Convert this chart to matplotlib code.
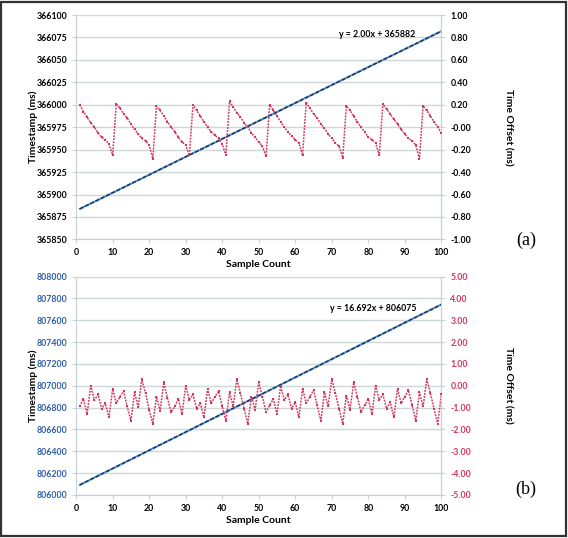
import numpy as np
import matplotlib
matplotlib.use("Agg")
import matplotlib.pyplot as plt
from matplotlib.patches import Rectangle

plt.rcParams['font.family'] = ['Lato', 'DejaVu Sans']

# sample index 1..100
samples = list(range(1, 101))

# (a) trendline of timestamps and sawtooth time offset (ms)
slope_a = 2.00
intercept_a = 365882
offset_a = [0.20, 0.14, 0.09, 0.04, 0.00, -0.05, -0.09, -0.11, -0.15, -0.25,
            0.21, 0.17, 0.12, 0.08, 0.03, -0.02, -0.06, -0.10, -0.12, -0.16, -0.28,
            0.19, 0.15, 0.10, 0.05, 0.00, -0.04, -0.09, -0.13, -0.16, -0.25,
            0.20, 0.15, 0.10, 0.05, 0.00, -0.04, -0.07, -0.10, -0.15, -0.25,
            0.23, 0.18, 0.13, 0.09, 0.04, 0.00, -0.05, -0.09, -0.13, -0.17, -0.26,
            0.20, 0.15, 0.10, 0.05, 0.00, -0.04, -0.08, -0.11, -0.14, -0.25,
            0.22, 0.17, 0.12, 0.08, 0.03, -0.01, -0.06, -0.10, -0.14, -0.17, -0.27,
            0.19, 0.15, 0.10, 0.05, 0.00, -0.04, -0.09, -0.11, -0.14, -0.25,
            0.21, 0.16, 0.12, 0.07, 0.03, -0.02, -0.06, -0.10, -0.12, -0.16, -0.28,
            0.19, 0.15, 0.10, 0.05, 0.00, -0.05]

# (b)
slope_b = 16.692
intercept_b = 806075
offset_b = [-0.95, -0.60, -1.30, 0.00, -0.67, -0.40, -1.06, -0.80, -1.45, -0.15,
            -0.80, -0.50, -0.25, -0.95, -1.60, -0.30, -0.97, 0.30, -0.35, -1.10,
            -1.75, -0.50, -1.15, 0.15, -0.55, -1.20, -0.95, -0.60, -1.30, 0.00,
            -0.65, -0.40, -1.05, -0.80, -1.45, -0.15, -0.80, -0.50, -0.25, -0.95,
            -1.60, -0.30, -0.95, 0.30, -0.35, -1.05, -1.75, -0.50, -1.10, 0.15,
            -0.50, -1.20, -0.90, -0.60, -1.30, 0.00, -0.65, -0.40, -1.05, -0.75,
            -1.45, -0.15, -0.80, -0.50, -0.20, -0.90, -1.60, -0.30, -0.95, 0.30,
            -0.35, -1.05, -1.75, -0.45, -1.10, 0.15, -0.50, -1.20, -0.90, -0.60,
            -1.30, 0.00, -0.65, -0.40, -1.05, -0.75, -1.45, -0.15, -0.80, -0.50,
            -0.20, -0.90, -1.60, -0.30, -0.95, 0.30, -0.35, -1.05, -1.75, -0.40]

red = "#d4365f"
navy = "#1d3d6b"
lightblue = "#5b9bd5"
grid_c = "#cfd8d8"
spine_c = "#c5d3d3"

fig = plt.figure(figsize=(5.68, 5.38), dpi=100)
fig.patches.append(Rectangle((0.002, 0.003), 0.994, 0.994, transform=fig.transFigure,
                             fill=False, edgecolor="#333333", linewidth=1.6))


def make_panel(rect, slope, intercept, offset, lticks, rticks, eq, eqpos, tag, tagy,
               lcolor, rcolor):
    ax = fig.add_axes(rect)
    x = np.array(samples)
    trend = slope * x + intercept
    ax.plot(x, trend, color=lightblue, linewidth=1.4, zorder=3)
    ax.plot(x, trend, color=navy, linewidth=1.2, linestyle=(0, (2.5, 1)), zorder=4)
    ax.set_xlim(0, 100)
    ax.set_ylim(lticks[0], lticks[-1])
    ax.set_xticks(range(0, 101, 10))
    ax.set_yticks(lticks)
    ax.yaxis.grid(True, color=grid_c, linewidth=1.0)
    ax.set_axisbelow(True)
    ax.tick_params(labelsize=6.3, length=3, width=0.8, color=spine_c)
    ax.tick_params(axis='y', labelcolor=lcolor)
    for lab in ax.get_xticklabels() + ax.get_yticklabels():
        lab.set_fontweight('bold')
    ax.spines['top'].set_visible(False)
    for s in ['left', 'right', 'bottom']:
        ax.spines[s].set_color(spine_c)
    ax.set_xlabel("Sample Count", fontsize=7.5, fontweight='bold', labelpad=2)
    ax.set_ylabel("Timestamp (ms)", fontsize=7.5, fontweight='bold', labelpad=-1)
    ax.text(eqpos[0], eqpos[1], eq, fontsize=6.3, fontweight='bold',
            transform=ax.transData, zorder=6)

    ax2 = ax.twinx()
    ax2.plot(x, offset, color=red, linewidth=1.1, linestyle=(0, (1.2, 0.8)),
             marker='s', markersize=2.1, markeredgewidth=0, zorder=5)
    ax2.set_ylim(rticks[0], rticks[-1])
    ax2.set_yticks(rticks)
    ax2.set_yticklabels(["%.2f" % v for v in rticks])
    ax2.tick_params(labelsize=6.3, length=3, width=0.8, color=spine_c, labelcolor=rcolor)
    for lab in ax2.get_yticklabels():
        lab.set_fontweight('bold')
    ax2.spines['top'].set_visible(False)
    for s in ['left', 'right', 'bottom']:
        ax2.spines[s].set_color(spine_c)
    ax2.set_ylabel("Time Offset (ms)", fontsize=7.5, fontweight='bold',
                   rotation=270, labelpad=30)
    fig.text(0.926, tagy, tag, fontsize=13, family='Liberation Serif',
             ha='center', va='center')
    return ax, ax2


make_panel([0.134, 0.555, 0.643, 0.417], slope_a, intercept_a, offset_a,
           list(range(365850, 366101, 25)), [round(v, 1) for v in np.arange(-1.0, 1.01, 0.2)],
           "y = 2.00x + 365882", (72, 366076), "(a)", 0.553, "black", "black")
make_panel([0.134, 0.080, 0.643, 0.406], slope_b, intercept_b, offset_b,
           list(range(806000, 808001, 200)), list(range(-5, 6)),
           "y = 16.692x + 806075", (69.5, 807680), "(b)", 0.090, "#2e5fa8", "#d4365f")

fig.savefig("out.png", dpi=100)
